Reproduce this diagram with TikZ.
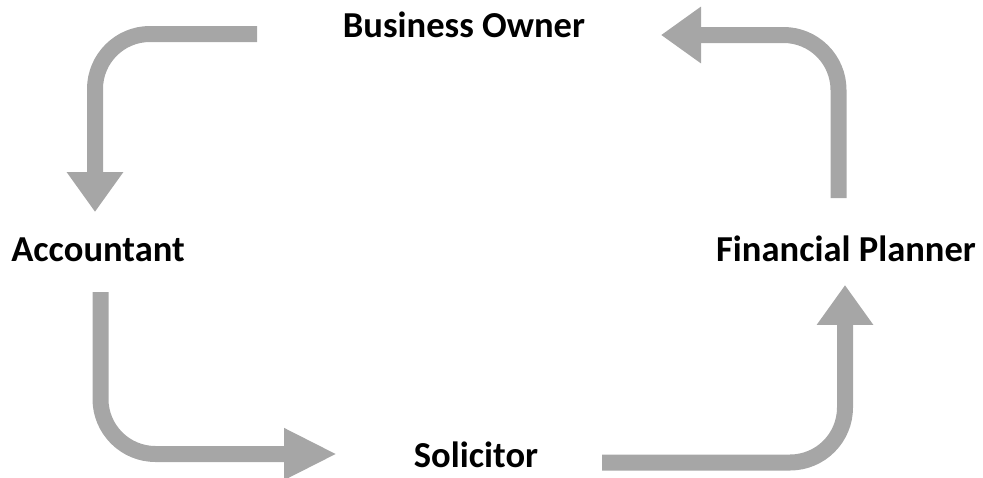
\documentclass[tikz,border=0pt]{standalone}
\usepackage{fontspec}
\setmainfont{Carlito}
\usetikzlibrary{arrows.meta,calc}
\definecolor{flowgrey}{HTML}{A6A6A6}
\tikzset{
  party/.style={font=\fontsize{20.8}{24}\selectfont\bfseries, inner sep=0pt, anchor=base},
  flow/.style={draw=flowgrey, line width=0.32cm, rounded corners=1.1cm,
    -{Triangle[length=0.8cm, width=1.08cm]}},
  longflow/.style={flow, -{Triangle[length=1.06cm, width=0.96cm]}}
}
\begin{document}
\begin{tikzpicture}[x=0.02cm, y=-0.02cm]
  \useasboundingbox (0,0) rectangle (983,477);

  % Parties
  \node[party] (bo)  at (464,37)  {Business Owner};
  \node[party] (acc) at (98,261)  {Accountant};
  \node[party] (fp)  at (846,261) {Financial Planner};
  \node[party] (sol) at (476,467) {Solicitor};

  % Cycle of referrals
  \draw[flow] ($(bo.base)+(-207,-3)$) -| ($(acc.base)+(-3,-49)$);
  \draw[longflow] ($(acc.base)+(2.5,31)$) |- ($(sol.base)+(-139,-13)$);
  \draw[flow] ($(sol.base)+(126,-4.5)$) -| ($(fp.base)+(-1,24)$);
  \draw[flow] ($(fp.base)+(-7.5,-63)$) |- ($(bo.base)+(197,-2)$);

\end{tikzpicture}
\end{document}
